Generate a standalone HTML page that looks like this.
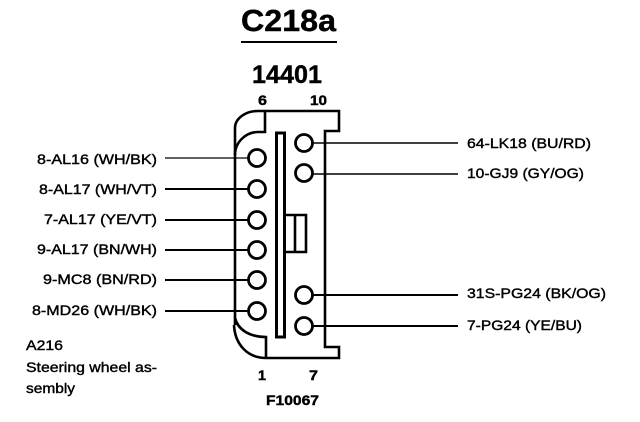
<!DOCTYPE html>
<html><head><meta charset="utf-8"><style>
html,body{margin:0;padding:0;background:#fff}
svg{display:block}
text{font-family:"Liberation Sans",sans-serif;fill:#000;stroke:#000;stroke-width:.4}
</style></head><body>
<svg width="640" height="422" viewBox="0 0 640 422" xmlns="http://www.w3.org/2000/svg">
<text x="241" y="31" font-size="31" font-weight="bold" textLength="95" lengthAdjust="spacingAndGlyphs">C218a</text>
<rect x="241" y="41" width="96" height="2"/>
<text x="252" y="83" font-size="25" font-weight="bold" textLength="70" lengthAdjust="spacingAndGlyphs">14401</text>
<g font-size="14" font-weight="bold">
<text x="258" y="105" textLength="9" lengthAdjust="spacingAndGlyphs">6</text><text x="310" y="105" textLength="17" lengthAdjust="spacingAndGlyphs">10</text>
<text x="258" y="380" textLength="8" lengthAdjust="spacingAndGlyphs">1</text><text x="309" y="380" textLength="9" lengthAdjust="spacingAndGlyphs">7</text>
<text x="266" y="405" textLength="53" lengthAdjust="spacingAndGlyphs">F10067</text>
</g>
<g font-size="14">
<text x="37" y="164" textLength="120" lengthAdjust="spacingAndGlyphs">8-AL16 (WH/BK)</text>
<text x="39" y="194" textLength="118" lengthAdjust="spacingAndGlyphs">8-AL17 (WH/VT)</text>
<text x="44" y="224" textLength="113" lengthAdjust="spacingAndGlyphs">7-AL17 (YE/VT)</text>
<text x="37" y="254" textLength="120" lengthAdjust="spacingAndGlyphs">9-AL17 (BN/WH)</text>
<text x="43" y="284" textLength="114" lengthAdjust="spacingAndGlyphs">9-MC8 (BN/RD)</text>
<text x="32" y="315" textLength="125" lengthAdjust="spacingAndGlyphs">8-MD26 (WH/BK)</text>
<text x="467" y="148" textLength="124" lengthAdjust="spacingAndGlyphs">64-LK18 (BU/RD)</text>
<text x="467" y="178" textLength="117" lengthAdjust="spacingAndGlyphs">10-GJ9 (GY/OG)</text>
<text x="467" y="298" textLength="139" lengthAdjust="spacingAndGlyphs">31S-PG24 (BK/OG)</text>
<text x="467" y="330" textLength="115" lengthAdjust="spacingAndGlyphs">7-PG24 (YE/BU)</text>
<text x="26" y="350" textLength="37" lengthAdjust="spacingAndGlyphs">A216</text>
<text x="26" y="372" textLength="131" lengthAdjust="spacingAndGlyphs">Steering wheel as-</text>
<text x="26" y="393" textLength="49" lengthAdjust="spacingAndGlyphs">sembly</text>
</g>
<g fill="none" stroke="#000" stroke-width="2">
<path d="M165 158H248" stroke-width="1.2"/>
<path d="M165 189H248M165 220H248M165 250H248M165 280H248M165 311H248" />
<path d="M313 143H458M313 174H458" stroke-width="1.5"/>
<path d="M313 295H458M313 326H458"/>
<path d="M235 325V128C235 118 246 111 258 111H339V131H325V347H339V358H266C248 358 235 345 234 325" stroke-width="2.6"/>
<path d="M265 111V132H258C246 132 235 142 235 155M235 318C238 330 250 337 266 337V358" stroke-width="2.6"/>
<path d="M276.5 133H284.5V337H276.5Z" stroke-width="3"/>
<path d="M285 215H306V252H285M295 215V252" stroke-width="2.6"/>
</g>
<g fill="#fff" stroke="#000" stroke-width="2.8">
<circle cx="257" cy="158" r="8.5"/><circle cx="257" cy="189" r="8.5"/><circle cx="257" cy="220" r="8.5"/>
<circle cx="257" cy="250" r="8.5"/><circle cx="257" cy="280" r="8.5"/><circle cx="257" cy="311" r="8.5"/>
<circle cx="304" cy="143" r="8.5"/><circle cx="304" cy="173" r="8.5"/><circle cx="304" cy="295" r="8.5"/><circle cx="304" cy="326" r="8.5"/>
</g>
</svg>
</body></html>
